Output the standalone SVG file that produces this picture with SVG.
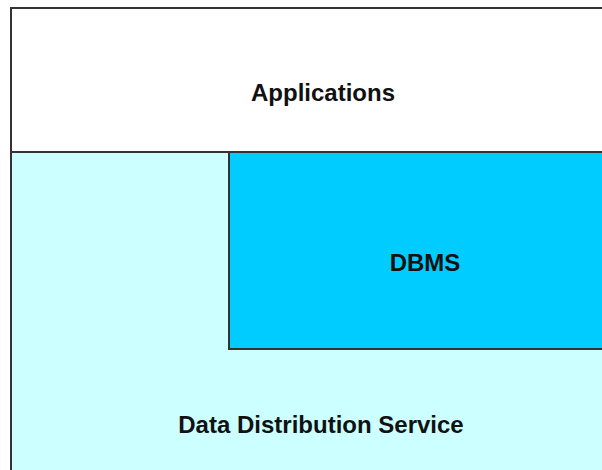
<svg xmlns="http://www.w3.org/2000/svg" width="602" height="470" viewBox="0 0 602 470">
  <style>
    .box { stroke: #333333; stroke-width: 2; }
    .label { font-family: "Liberation Sans", Arial, sans-serif; font-weight: bold; font-size: 24px; fill: #111111; text-anchor: middle; }
  </style>
  <rect x="0" y="0" width="602" height="470" fill="#ffffff"/>
  <g id="applications">
    <rect class="box" x="11" y="8" width="600" height="144" fill="#ffffff"/>
    <text class="label" x="323" y="101">Applications</text>
  </g>
  <g id="dds">
    <rect class="box" x="11" y="152" width="600" height="330" fill="#ccffff"/>
    <text class="label" x="321" y="433">Data Distribution Service</text>
  </g>
  <g id="dbms">
    <rect class="box" x="229" y="152" width="382" height="197" fill="#00ccff"/>
    <text class="label" x="425" y="271">DBMS</text>
  </g>
  <g id="connectors"/>
</svg>
